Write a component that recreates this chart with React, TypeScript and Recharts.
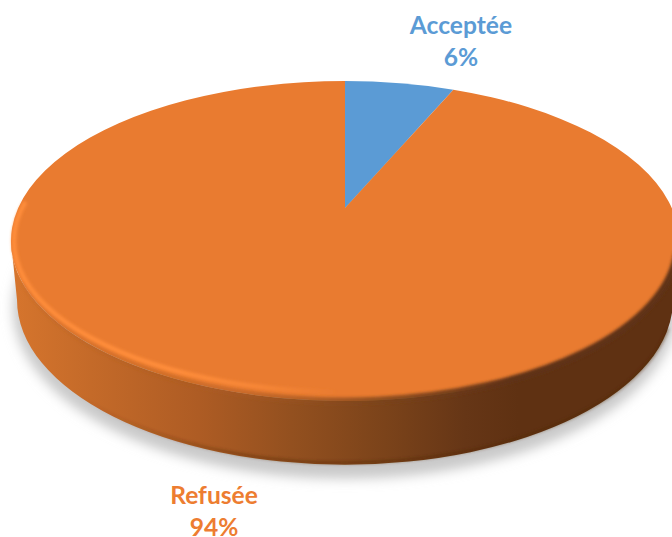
import React from 'react';
import { PieChart, Pie, Cell } from 'recharts';

const categories = ['Acceptée', 'Refusée'];
const values = [6, 94];
const sliceColors = ['#5b9bd5', '#e97b30'];
const labelColors = ['#5b9bd5', '#ed7d31'];
const percentLabels = ['6%', '94%'];

const chartData = categories.map((name, i) => ({ name, value: values[i] }));

const TILT = 0.479;
const APEX_LIFT = 33;
const DEPTH = 59;
const BOTTOM_RX_RATIO = 0.982;
const BOTTOM_RY_RATIO = 1.03;
const WARP = 3.9;
const FONT = 'Lato, Carlito, "Open Sans", sans-serif';

const wallStops: [number, string][] = [
  [0, '#d6752d'],
  [0.12, '#c46a29'],
  [0.28, '#ae5c24'],
  [0.42, '#93501f'],
  [0.56, '#7b431a'],
  [0.68, '#663616'],
  [0.76, '#5f3112'],
  [1, '#5f3112'],
];

const labelPlacement: Record<string, { x: number; y: number }> = {
  'Acceptée': { x: 461, y: 34 },
  'Refusée': { x: 214, y: 504 },
};

const warp = (a: number) => a - WARP * Math.sin((2 * a * Math.PI) / 180);

const pt = (cx: number, cy: number, rx: number, ry: number, deg: number) => {
  const r = (deg * Math.PI) / 180;
  return [cx + rx * Math.sin(r), cy - ry * Math.cos(r)];
};

const arcPath = (cx: number, cy: number, rx: number, ry: number, from: number, to: number, move = true) => {
  const s = pt(cx, cy, rx, ry, from);
  const e = pt(cx, cy, rx, ry, to);
  const d = `${move ? 'M' : 'L'}${s[0]} ${s[1]}`;
  return `${d} A${rx} ${ry} 0 ${to - from > 180 ? 1 : 0} 1 ${e[0]} ${e[1]}`;
};

const DiskBase = ({ cx, cy, rx, ry }: { cx: number; cy: number; rx: number; ry: number }) => {
  const by = cy + DEPTH;
  const brx = rx * BOTTOM_RX_RATIO;
  const bry = ry * BOTTOM_RY_RATIO;
  const wall = `M${cx - rx} ${cy} A${rx} ${ry} 0 0 0 ${cx + rx} ${cy} L${cx + brx} ${by} A${brx} ${bry} 0 0 1 ${cx - brx} ${by} Z`;
  const x0 = cx - rx;
  const x1 = cx + rx;
  return (
    <g>
      <defs>
        <linearGradient id="wallFill" gradientUnits="userSpaceOnUse" x1={x0} x2={x1} y1={0} y2={0}>
          {wallStops.map(([o, c]) => <stop key={o} offset={o} stopColor={c} />)}
        </linearGradient>
        <linearGradient id="wallEdge" gradientUnits="userSpaceOnUse" x1={x0} x2={x1} y1={0} y2={0}>
          <stop offset={0.1} stopColor="#4f2809" stopOpacity={0} />
          <stop offset={0.35} stopColor="#4f2809" stopOpacity={0.4} />
          <stop offset={1} stopColor="#4f2809" stopOpacity={0.45} />
        </linearGradient>
        <linearGradient id="rimFill" gradientUnits="userSpaceOnUse" x1={x0} x2={x1} y1={0} y2={0}>
          <stop offset={0} stopColor="#ff8d3a" />
          <stop offset={0.25} stopColor="#ff8d3a" />
          <stop offset={0.36} stopColor="#ff8d3a" stopOpacity={0.7} />
          <stop offset={0.49} stopColor="#ff8d3a" stopOpacity={0} />
        </linearGradient>
        <linearGradient id="edgeFill" gradientUnits="userSpaceOnUse" x1={x0} x2={x1} y1={0} y2={0}>
          <stop offset={0} stopColor="#b5601f" stopOpacity={0.15} />
          <stop offset={0.35} stopColor="#a9591f" stopOpacity={0.5} />
          <stop offset={0.55} stopColor="#7b431a" stopOpacity={0.8} />
          <stop offset={0.75} stopColor="#5f3112" stopOpacity={1} />
          <stop offset={1} stopColor="#5f3112" stopOpacity={1} />
        </linearGradient>
        <filter id="floorBlur" filterUnits="userSpaceOnUse" x={-60} y={100} width={800} height={500}>
          <feGaussianBlur stdDeviation={6} />
        </filter>
        <filter id="softBlur" filterUnits="userSpaceOnUse" x={-60} y={100} width={800} height={500}>
          <feGaussianBlur stdDeviation={1.4} />
        </filter>
      </defs>
      <ellipse cx={cx} cy={by + 8} rx={brx + 4} ry={bry + 6} fill="#c9c9c9" filter="url(#floorBlur)" />
      <path d={wall} fill="url(#wallFill)" />
      <path
        d={arcPath(cx, by, brx, bry - 2, 100, 260)}
        fill="none"
        stroke="url(#wallEdge)"
        strokeWidth={3}
        filter="url(#softBlur)"
      />
    </g>
  );
};

const DiskSector = (props: any) => {
  const { cx, cy, outerRadius, startAngle, endAngle, fill, index } = props;
  const rx = outerRadius;
  const ry = outerRadius * TILT;
  const a0 = warp(90 - startAngle);
  const a1 = warp(90 - endAngle);
  const top = `M${cx} ${cy - APEX_LIFT} ${arcPath(cx, cy, rx, ry, a0, a1, false)} Z`;
  if (index === 0) {
    return (
      <g>
        <DiskBase cx={cx} cy={cy} rx={rx} ry={ry} />
        <path d={top} fill={fill} />
      </g>
    );
  }
  return (
    <g>
      <path d={top} fill={fill} />
      <path
        d={arcPath(cx, cy, rx - 1, ry, 94, 255)}
        fill="none"
        stroke="url(#edgeFill)"
        strokeWidth={7}
        filter="url(#softBlur)"
      />
      <path
        d={arcPath(cx, cy, rx - 3, ry - 9, 175, 285)}
        fill="none"
        stroke="url(#rimFill)"
        strokeWidth={4.5}
        filter="url(#softBlur)"
      />
    </g>
  );
};

const renderLabel = (props: any) => {
  const { name, index } = props;
  const pos = labelPlacement[name];
  return (
    <text
      x={pos.x}
      y={pos.y}
      textAnchor="middle"
      fill={labelColors[index]}
      fontFamily={FONT}
      fontWeight={700}
      fontSize={24.6}
    >
      <tspan x={pos.x}>{name}</tspan>
      <tspan x={pos.x} dy={31.5}>{percentLabels[index]}</tspan>
    </text>
  );
};

export default function App() {
  return (
    <div style={{ position: 'absolute', left: 0, top: 0, width: 672, height: 537, overflow: 'hidden', background: '#fff' }}>
      <PieChart width={672} height={537} margin={{ top: 0, right: 0, bottom: 0, left: 0 }}>
        <Pie
          data={chartData}
          dataKey="value"
          nameKey="name"
          cx={345}
          cy={241}
          outerRadius={334}
          startAngle={90}
          endAngle={-270}
          stroke="none"
          isAnimationActive={false}
          shape={DiskSector}
          label={renderLabel}
          labelLine={false}
        >
          {chartData.map((d, i) => <Cell key={d.name} fill={sliceColors[i]} />)}
        </Pie>
      </PieChart>
    </div>
  );
}
